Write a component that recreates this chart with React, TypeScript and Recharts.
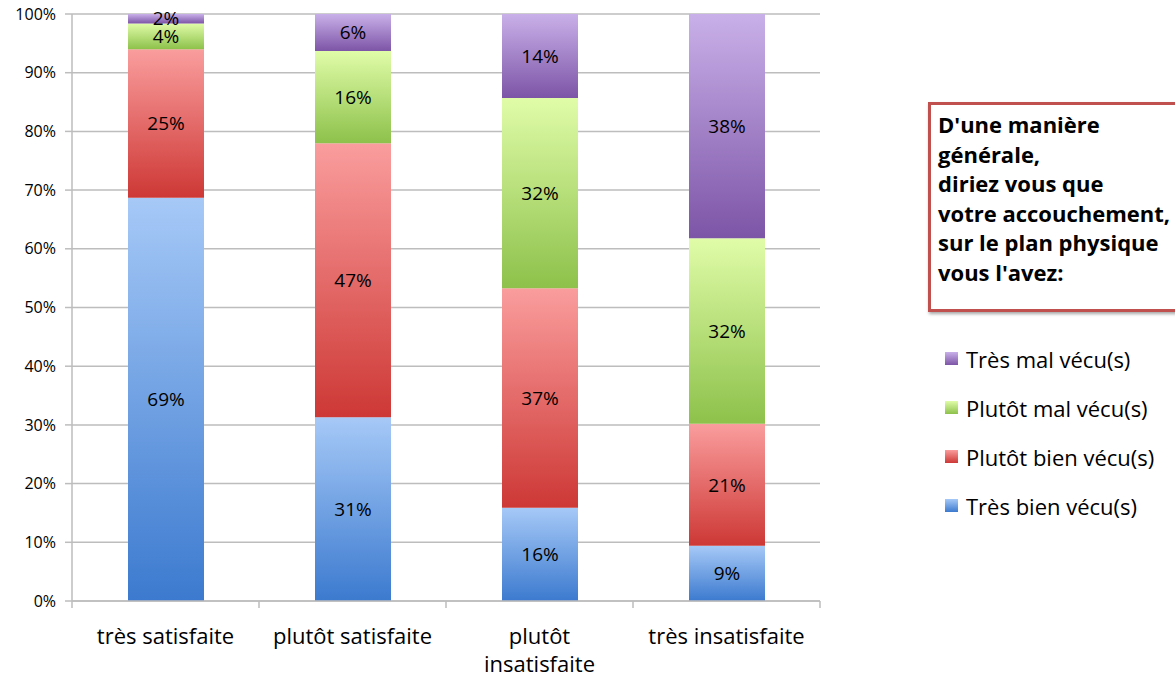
import React from 'react'
import { BarChart, Bar, XAxis, YAxis, CartesianGrid, LabelList } from 'recharts'

// categories (x axis)
const categories = ['très satisfaite', 'plutôt satisfaite', 'plutôt insatisfaite', 'très insatisfaite']

// series values in %, bottom to top of each stack
const tresBien = [68.7, 31.3, 15.9, 9.4]
const plutotBien = [25.3, 46.7, 37.4, 20.8]
const plutotMal = [4.4, 15.7, 32.4, 31.6]
const tresMal = [1.6, 6.3, 14.3, 38.2]

const yTicks = [0, 10, 20, 30, 40, 50, 60, 70, 80, 90, 100]

const series = [
  { key: 'tresBien', name: 'Très bien vécu(s)', values: tresBien, top: '#a6c9f7', bottom: '#3c7acf' },
  { key: 'plutotBien', name: 'Plutôt bien vécu(s)', values: plutotBien, top: '#fa9d9d', bottom: '#cd3835' },
  { key: 'plutotMal', name: 'Plutôt mal vécu(s)', values: plutotMal, top: '#e0fca8', bottom: '#8dc14b' },
  { key: 'tresMal', name: 'Très mal vécu(s)', values: tresMal, top: '#c9b0e9', bottom: '#7d55a7' },
]

const boxTitle = ["D'une manière", 'générale,', 'diriez vous que', 'votre accouchement,', 'sur le plan physique', "vous l'avez:"]

const data = categories.map((name, i) => {
  const row: any = { name }
  series.forEach(s => { row[s.key] = s.values[i] })
  return row
})

const FONT = '"Open Sans", sans-serif'
const GRID = '#bdbdbd'

// category label plus tick marks on the category boundaries
const CatTick = (props: any) => {
  const { x, y, payload, width, index } = props
  const bw = width / categories.length
  const text: string = payload.value
  const lines = text.length > 18 ? text.split(' ') : [text]
  const last = index === categories.length - 1
  return (
    <g>
      <line x1={x - bw / 2} x2={x - bw / 2} y1={y} y2={y + 7} stroke={GRID} strokeWidth={1.5} />
      {last && <line x1={x + bw / 2} x2={x + bw / 2} y1={y} y2={y + 7} stroke={GRID} strokeWidth={1.5} />}
      <text x={x} y={y} textAnchor="middle" fontFamily={FONT} fontSize={22} fill="#000">
        {lines.map((l, i) => (
          <tspan key={i} x={x} dy={i === 0 ? 43 : 28}>{l}</tspan>
        ))}
      </text>
    </g>
  )
}

const App = () => {
  return (
    <div style={{ position: 'relative', width: 1175, height: 677, background: '#fff', fontFamily: FONT }}>
      <style>{'body{margin:0}'}</style>
      <BarChart
        width={1175}
        height={677}
        data={data}
        margin={{ top: 14, right: 355, left: 0, bottom: 0 }}
        barSize={76}
      >
        <defs>
          {series.map(s => (
            <linearGradient key={s.key} id={'g-' + s.key} x1="0" y1="0" x2="0" y2="1">
              <stop offset="0%" stopColor={s.top} />
              <stop offset="100%" stopColor={s.bottom} />
            </linearGradient>
          ))}
        </defs>
        <CartesianGrid vertical={false} stroke={GRID} strokeWidth={1.5} />
        <XAxis
          dataKey="name"
          height={76}
          stroke={GRID}
          strokeWidth={1.5}
          tickLine={false}
          tickSize={0}
          tickMargin={0}
          interval={0}
          tick={<CatTick />}
        />
        <YAxis
          width={72}
          domain={[0, 100]}
          ticks={yTicks}
          tickFormatter={v => v + '%'}
          tickSize={7}
          tickMargin={9}
          stroke={GRID}
          strokeWidth={1.5}
          tick={{ fill: '#000', fontSize: 16, fontFamily: FONT }}
          interval={0}
        />
        {series.map(s => (
          <Bar
            key={s.key}
            dataKey={s.key}
            name={s.name}
            stackId="a"
            fill={`url(#g-${s.key})`}
            isAnimationActive={false}
          >
            <LabelList
              dataKey={s.key}
              position="center"
              formatter={(v: any) => Math.round(v) + '%'}
              fill="#000"
              fontSize={19}
              fontFamily={FONT}
            />
          </Bar>
        ))}
      </BarChart>

      <div
        style={{
          position: 'absolute',
          left: 928,
          top: 102,
          width: 260,
          height: 210,
          border: '3px solid #c0504d',
          boxShadow: '1px 2px 3px rgba(0,0,0,0.35)',
          background: '#fff',
          padding: '5px 0 0 7px',
          boxSizing: 'border-box',
          fontWeight: 700,
          fontSize: 22,
          lineHeight: '29.5px',
          color: '#000',
          whiteSpace: 'nowrap',
        }}
      >
        {boxTitle.map((l, i) => <div key={i}>{l}</div>)}
      </div>

      <div style={{ position: 'absolute', left: 945, top: 334 }}>
        {[...series].reverse().map(s => (
          <div key={s.key} style={{ display: 'flex', alignItems: 'center', height: 49, fontSize: 22, color: '#000' }}>
            <span
              style={{
                display: 'inline-block',
                width: 13,
                height: 13,
                marginRight: 8,
                background: `linear-gradient(${s.top}, ${s.bottom})`,
              }}
            />
            {s.name}
          </div>
        ))}
      </div>
    </div>
  )
}

export default App
